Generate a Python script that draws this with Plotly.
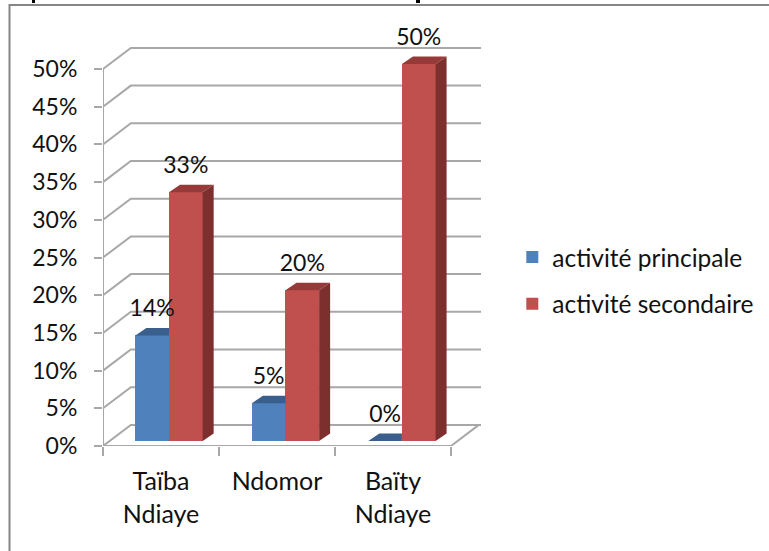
import plotly.graph_objects as go

categories = ["Taïba<br>Ndiaye", "Ndomor", "Baïty<br>Ndiaye"]
principale = [14, 5, 0]
secondaire = [33, 20, 50]
y_ticks = [0, 5, 10, 15, 20, 25, 30, 35, 40, 45, 50]

FONT = "Lato"
GRID = "#a8a8a8"
BLUE, BLUE_TOP = "#4f81bd", "#3a5f8c"
RED, RED_TOP, RED_SIDE = "#c0504d", "#953a38", "#7d2f2d"

# depth of the back wall and of a bar, in axis units
WALL_X, WALL_Y = 0.24, 2.8
BAR_X, BAR_Y = 0.095, 1.0
BAR_W = 0.29
GROUP = 0.569   # group centre inside a category slot
STEP = 1.004    # bars drift very slightly against the axis ticks
BASE = 0.66     # bars stand slightly behind the front edge of the floor
LABEL_GAP = 1.8

L, R_EDGE, T, B_EDGE = 103, 481, 20, 446
X_MAX = 3 + (R_EDGE - 103 - 348) / 116
Y_MAX = (B_EDGE - T) / 7.54

fig = go.Figure()

blue_x = [i * STEP + GROUP - BAR_W / 2 for i in range(3)]
red_x = [i * STEP + GROUP + BAR_W / 2 for i in range(3)]

fig.add_trace(go.Bar(x=blue_x, y=principale, base=BASE, width=BAR_W, name="activité principale",
                     marker=dict(color=BLUE, line_width=0), legendgroup="a"))
fig.add_trace(go.Bar(x=red_x, y=secondaire, base=BASE, width=BAR_W, name="activité secondaire",
                     marker=dict(color=RED, line_width=0), legendgroup="b"))


def face(xs, ys, color):
    fig.add_trace(go.Scatter(x=xs, y=ys, mode="lines", fill="toself", fillcolor=color,
                             line=dict(width=0, color=color), showlegend=False, hoverinfo="skip"))


for cx, v in zip(blue_x, principale):
    l, r, t = cx - BAR_W / 2, cx + BAR_W / 2, v + BASE
    face([l, l + BAR_X, r, r, l], [t, t + BAR_Y, t + BAR_Y, t, t], BLUE_TOP)
for cx, v in zip(red_x, secondaire):
    l, r, t = cx - BAR_W / 2, cx + BAR_W / 2, v + BASE
    face([l, l + BAR_X, r + BAR_X, r, l], [t, t + BAR_Y, t + BAR_Y, t, t], RED_TOP)
    face([r, r + BAR_X, r + BAR_X, r, r], [BASE, BASE + BAR_Y, t + BAR_Y, t, BASE], RED_SIDE)

fig.add_trace(go.Scatter(
    x=blue_x + red_x,
    y=[v + BASE + LABEL_GAP for v in principale + secondaire],
    text=[f"{v}%" for v in principale + secondaire],
    mode="text", textposition="top center",
    textfont=dict(family=FONT, size=23, color="#111111"),
    showlegend=False, hoverinfo="skip"))

shapes = []
for v in y_ticks:
    shapes.append(dict(type="path", layer="below", xref="x", yref="y",
                       path=f"M 0 {v} L {WALL_X} {v + WALL_Y} L {X_MAX} {v + WALL_Y}",
                       line=dict(color=GRID, width=2)))
shapes.append(dict(type="path", layer="below", xref="x", yref="y",
                   path=f"M 0 0 L 3 0 L {3 + WALL_X} {WALL_Y}", line=dict(color=GRID, width=2)))
shapes.append(dict(type="line", layer="below", xref="x", yref="y", x0=0, x1=0, y0=0, y1=50,
                   line=dict(color=GRID, width=2)))
# outer chart frame: its right and bottom sides lie outside the picture
PW, PH = R_EDGE - L, B_EDGE - T
shapes.append(dict(type="rect", xref="paper", yref="paper", layer="below",
                   x0=(9.5 - L) / PW, x1=(800 - L) / PW,
                   y0=(B_EDGE - 600) / PH, y1=(B_EDGE - 5) / PH,
                   line=dict(color="#868686", width=2)))
# the only traces of the heading cut off above the frame
for left, right in [(32, 35), (416, 420)]:
    shapes.append(dict(type="rect", xref="paper", yref="paper", layer="above",
                       x0=(left - L) / PW, x1=(right - L) / PW,
                       y0=(B_EDGE - 3) / PH, y1=B_EDGE / PH,
                       fillcolor="#000000", line_width=0))

fig.update_layout(
    width=769, height=551, autosize=False,
    margin=dict(l=L, r=769 - R_EDGE, t=T, b=551 - B_EDGE, pad=0),
    paper_bgcolor="white", plot_bgcolor="rgba(0,0,0,0)",
    barmode="overlay", bargap=0,
    shapes=shapes,
    showlegend=True,
    legend=dict(xref="container", yref="container", x=0.6662, y=0.4909,
                xanchor="left", yanchor="middle", tracegroupgap=12,
                itemwidth=30, font=dict(family=FONT, size=24.5, color="#111111"),
                bgcolor="rgba(0,0,0,0)"),
    xaxis=dict(range=[0, X_MAX], tickmode="array", tickvals=[0.5, 1.5, 2.5], ticktext=categories,
               ticks="", showline=False, showgrid=False, zeroline=False, tickangle=0,
               ticklabelstandoff=18,
               tickfont=dict(family=FONT, size=25, color="#111111"),
               minor=dict(tickmode="array", tickvals=[0, 1, 2, 3], ticks="outside", ticklen=9,
                          tickcolor=GRID, tickwidth=2, showgrid=False)),
    yaxis=dict(range=[0, Y_MAX], tickmode="array", tickvals=y_ticks,
               ticktext=[f"{v}%" for v in y_ticks], ticks="outside", ticklen=8,
               tickcolor=GRID, tickwidth=2, showline=False, showgrid=False, zeroline=False,
               ticklabelstandoff=12,
               tickfont=dict(family=FONT, size=23, color="#111111")),
)

fig.write_html("out.html", config={"displayModeBar": False},
               post_script="document.body.style.margin='0';")
